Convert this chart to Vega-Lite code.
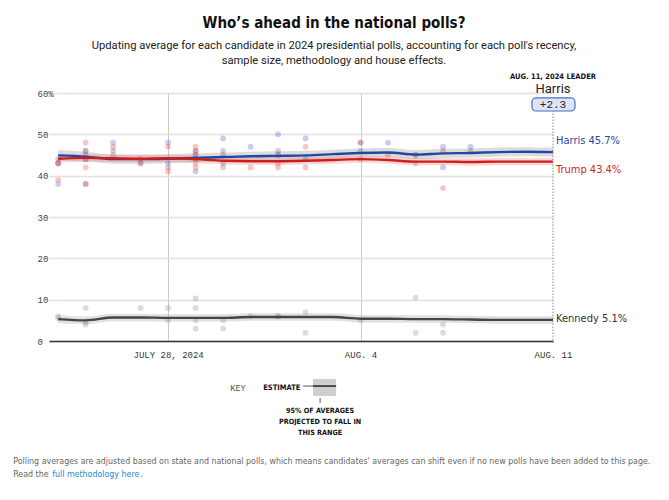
{
  "$schema": "https://vega.github.io/schema/vega-lite/v6.json",
  "width": 504,
  "height": 248,
  "autosize": {"type": "none"},
  "padding": {"left": 49, "top": 93, "right": 116, "bottom": 159},
  "background": "white",
  "config": {"font": "Roboto", "view": {"stroke": null}},
  "title": {
    "text": "Who’s ahead in the national polls?",
    "subtitle": ["Updating average for each candidate in 2024 presidential polls, accounting for each poll's recency,", "sample size, methodology and house effects."],
    "anchor": "middle",
    "dx": 33,
    "font": "DejaVu Sans Condensed",
    "fontSize": 15,
    "fontWeight": "bold",
    "color": "#111111",
    "subtitleFont": "Roboto",
    "subtitleFontSize": 11.2,
    "subtitleColor": "#222222",
    "subtitlePadding": 9,
    "subtitleLineHeight": 15,
    "offset": 7
  },
  "datasets": {
    "avg": [
      {"cand": "Harris", "date": "2024-07-24", "pct": 44.9, "lo": 43.6, "hi": 46.2},
      {"cand": "Harris", "date": "2024-07-25", "pct": 44.6, "lo": 43.4, "hi": 45.8},
      {"cand": "Harris", "date": "2024-07-26", "pct": 44.0, "lo": 42.9, "hi": 45.1},
      {"cand": "Harris", "date": "2024-07-27", "pct": 44.0, "lo": 42.9, "hi": 45.1},
      {"cand": "Harris", "date": "2024-07-28", "pct": 44.1, "lo": 43.0, "hi": 45.2},
      {"cand": "Harris", "date": "2024-07-29", "pct": 44.3, "lo": 43.2, "hi": 45.4},
      {"cand": "Harris", "date": "2024-07-30", "pct": 44.5, "lo": 43.4, "hi": 45.6},
      {"cand": "Harris", "date": "2024-07-31", "pct": 44.7, "lo": 43.6, "hi": 45.8},
      {"cand": "Harris", "date": "2024-08-01", "pct": 44.8, "lo": 43.7, "hi": 45.9},
      {"cand": "Harris", "date": "2024-08-02", "pct": 44.9, "lo": 43.8, "hi": 46.0},
      {"cand": "Harris", "date": "2024-08-03", "pct": 45.2, "lo": 44.1, "hi": 46.3},
      {"cand": "Harris", "date": "2024-08-04", "pct": 45.5, "lo": 44.4, "hi": 46.6},
      {"cand": "Harris", "date": "2024-08-05", "pct": 45.6, "lo": 44.5, "hi": 46.7},
      {"cand": "Harris", "date": "2024-08-06", "pct": 45.1, "lo": 44.0, "hi": 46.2},
      {"cand": "Harris", "date": "2024-08-07", "pct": 45.4, "lo": 44.3, "hi": 46.5},
      {"cand": "Harris", "date": "2024-08-08", "pct": 45.5, "lo": 44.4, "hi": 46.6},
      {"cand": "Harris", "date": "2024-08-09", "pct": 45.7, "lo": 44.6, "hi": 46.8},
      {"cand": "Harris", "date": "2024-08-10", "pct": 45.8, "lo": 44.7, "hi": 46.9},
      {"cand": "Harris", "date": "2024-08-11", "pct": 45.7, "lo": 44.6, "hi": 46.8},
      {"cand": "Trump", "date": "2024-07-24", "pct": 44.1, "lo": 43.1, "hi": 45.1},
      {"cand": "Trump", "date": "2024-07-25", "pct": 44.3, "lo": 43.4, "hi": 45.2},
      {"cand": "Trump", "date": "2024-07-26", "pct": 44.2, "lo": 43.3, "hi": 45.1},
      {"cand": "Trump", "date": "2024-07-27", "pct": 44.1, "lo": 43.2, "hi": 45.0},
      {"cand": "Trump", "date": "2024-07-28", "pct": 44.2, "lo": 43.3, "hi": 45.1},
      {"cand": "Trump", "date": "2024-07-29", "pct": 44.0, "lo": 43.1, "hi": 44.9},
      {"cand": "Trump", "date": "2024-07-30", "pct": 43.6, "lo": 42.7, "hi": 44.5},
      {"cand": "Trump", "date": "2024-07-31", "pct": 43.5, "lo": 42.6, "hi": 44.4},
      {"cand": "Trump", "date": "2024-08-01", "pct": 43.5, "lo": 42.6, "hi": 44.4},
      {"cand": "Trump", "date": "2024-08-02", "pct": 43.6, "lo": 42.7, "hi": 44.5},
      {"cand": "Trump", "date": "2024-08-03", "pct": 43.8, "lo": 42.9, "hi": 44.7},
      {"cand": "Trump", "date": "2024-08-04", "pct": 44.0, "lo": 43.1, "hi": 44.9},
      {"cand": "Trump", "date": "2024-08-05", "pct": 43.8, "lo": 42.9, "hi": 44.7},
      {"cand": "Trump", "date": "2024-08-06", "pct": 43.4, "lo": 42.5, "hi": 44.3},
      {"cand": "Trump", "date": "2024-08-07", "pct": 43.4, "lo": 42.5, "hi": 44.3},
      {"cand": "Trump", "date": "2024-08-08", "pct": 43.3, "lo": 42.4, "hi": 44.2},
      {"cand": "Trump", "date": "2024-08-09", "pct": 43.4, "lo": 42.5, "hi": 44.3},
      {"cand": "Trump", "date": "2024-08-10", "pct": 43.4, "lo": 42.5, "hi": 44.3},
      {"cand": "Trump", "date": "2024-08-11", "pct": 43.4, "lo": 42.5, "hi": 44.3},
      {"cand": "Kennedy", "date": "2024-07-24", "pct": 5.3, "lo": 4.3, "hi": 6.3},
      {"cand": "Kennedy", "date": "2024-07-25", "pct": 5.0, "lo": 4.1, "hi": 5.9},
      {"cand": "Kennedy", "date": "2024-07-26", "pct": 5.7, "lo": 4.8, "hi": 6.6},
      {"cand": "Kennedy", "date": "2024-07-27", "pct": 5.7, "lo": 4.8, "hi": 6.6},
      {"cand": "Kennedy", "date": "2024-07-28", "pct": 5.6, "lo": 4.7, "hi": 6.5},
      {"cand": "Kennedy", "date": "2024-07-29", "pct": 5.6, "lo": 4.7, "hi": 6.5},
      {"cand": "Kennedy", "date": "2024-07-30", "pct": 5.6, "lo": 4.7, "hi": 6.5},
      {"cand": "Kennedy", "date": "2024-07-31", "pct": 5.8, "lo": 4.9, "hi": 6.7},
      {"cand": "Kennedy", "date": "2024-08-01", "pct": 5.8, "lo": 4.9, "hi": 6.7},
      {"cand": "Kennedy", "date": "2024-08-02", "pct": 5.8, "lo": 4.9, "hi": 6.7},
      {"cand": "Kennedy", "date": "2024-08-03", "pct": 5.8, "lo": 4.9, "hi": 6.7},
      {"cand": "Kennedy", "date": "2024-08-04", "pct": 5.4, "lo": 4.5, "hi": 6.3},
      {"cand": "Kennedy", "date": "2024-08-05", "pct": 5.4, "lo": 4.5, "hi": 6.3},
      {"cand": "Kennedy", "date": "2024-08-06", "pct": 5.3, "lo": 4.4, "hi": 6.2},
      {"cand": "Kennedy", "date": "2024-08-07", "pct": 5.3, "lo": 4.4, "hi": 6.2},
      {"cand": "Kennedy", "date": "2024-08-08", "pct": 5.2, "lo": 4.3, "hi": 6.1},
      {"cand": "Kennedy", "date": "2024-08-09", "pct": 5.1, "lo": 4.2, "hi": 6.0},
      {"cand": "Kennedy", "date": "2024-08-10", "pct": 5.1, "lo": 4.2, "hi": 6.0},
      {"cand": "Kennedy", "date": "2024-08-11", "pct": 5.1, "lo": 4.2, "hi": 6.0}
    ],
    "polls": [
      {"cand": "Harris", "date": "2024-07-24", "pct": 44},
      {"cand": "Harris", "date": "2024-07-24", "pct": 43},
      {"cand": "Harris", "date": "2024-07-24", "pct": 38},
      {"cand": "Harris", "date": "2024-07-25", "pct": 46},
      {"cand": "Harris", "date": "2024-07-25", "pct": 45},
      {"cand": "Harris", "date": "2024-07-25", "pct": 44},
      {"cand": "Harris", "date": "2024-07-25", "pct": 38},
      {"cand": "Harris", "date": "2024-07-26", "pct": 48},
      {"cand": "Harris", "date": "2024-07-26", "pct": 46},
      {"cand": "Harris", "date": "2024-07-27", "pct": 43},
      {"cand": "Harris", "date": "2024-07-28", "pct": 48},
      {"cand": "Harris", "date": "2024-07-28", "pct": 43},
      {"cand": "Harris", "date": "2024-07-29", "pct": 46},
      {"cand": "Harris", "date": "2024-07-29", "pct": 45},
      {"cand": "Harris", "date": "2024-07-29", "pct": 44},
      {"cand": "Harris", "date": "2024-07-29", "pct": 41},
      {"cand": "Harris", "date": "2024-07-30", "pct": 49},
      {"cand": "Harris", "date": "2024-07-30", "pct": 46},
      {"cand": "Harris", "date": "2024-07-30", "pct": 43},
      {"cand": "Harris", "date": "2024-07-31", "pct": 47},
      {"cand": "Harris", "date": "2024-08-01", "pct": 50},
      {"cand": "Harris", "date": "2024-08-01", "pct": 46},
      {"cand": "Harris", "date": "2024-08-01", "pct": 45},
      {"cand": "Harris", "date": "2024-08-02", "pct": 49},
      {"cand": "Harris", "date": "2024-08-02", "pct": 44},
      {"cand": "Harris", "date": "2024-08-04", "pct": 48},
      {"cand": "Harris", "date": "2024-08-04", "pct": 46},
      {"cand": "Harris", "date": "2024-08-05", "pct": 48},
      {"cand": "Harris", "date": "2024-08-06", "pct": 45},
      {"cand": "Harris", "date": "2024-08-07", "pct": 47},
      {"cand": "Harris", "date": "2024-08-07", "pct": 42},
      {"cand": "Harris", "date": "2024-08-08", "pct": 47},
      {"cand": "Trump", "date": "2024-07-24", "pct": 43},
      {"cand": "Trump", "date": "2024-07-24", "pct": 43},
      {"cand": "Trump", "date": "2024-07-24", "pct": 39},
      {"cand": "Trump", "date": "2024-07-25", "pct": 48},
      {"cand": "Trump", "date": "2024-07-25", "pct": 46},
      {"cand": "Trump", "date": "2024-07-25", "pct": 44},
      {"cand": "Trump", "date": "2024-07-25", "pct": 42},
      {"cand": "Trump", "date": "2024-07-25", "pct": 38},
      {"cand": "Trump", "date": "2024-07-26", "pct": 47},
      {"cand": "Trump", "date": "2024-07-26", "pct": 45},
      {"cand": "Trump", "date": "2024-07-27", "pct": 44},
      {"cand": "Trump", "date": "2024-07-27", "pct": 43},
      {"cand": "Trump", "date": "2024-07-28", "pct": 47},
      {"cand": "Trump", "date": "2024-07-28", "pct": 42},
      {"cand": "Trump", "date": "2024-07-28", "pct": 41},
      {"cand": "Trump", "date": "2024-07-29", "pct": 47},
      {"cand": "Trump", "date": "2024-07-29", "pct": 46},
      {"cand": "Trump", "date": "2024-07-29", "pct": 45},
      {"cand": "Trump", "date": "2024-07-29", "pct": 43},
      {"cand": "Trump", "date": "2024-07-29", "pct": 42},
      {"cand": "Trump", "date": "2024-07-30", "pct": 45},
      {"cand": "Trump", "date": "2024-07-30", "pct": 42},
      {"cand": "Trump", "date": "2024-07-31", "pct": 42},
      {"cand": "Trump", "date": "2024-08-01", "pct": 45},
      {"cand": "Trump", "date": "2024-08-01", "pct": 43},
      {"cand": "Trump", "date": "2024-08-01", "pct": 42},
      {"cand": "Trump", "date": "2024-08-02", "pct": 47},
      {"cand": "Trump", "date": "2024-08-02", "pct": 42},
      {"cand": "Trump", "date": "2024-08-04", "pct": 48},
      {"cand": "Trump", "date": "2024-08-04", "pct": 44},
      {"cand": "Trump", "date": "2024-08-05", "pct": 45},
      {"cand": "Trump", "date": "2024-08-06", "pct": 45},
      {"cand": "Trump", "date": "2024-08-06", "pct": 43},
      {"cand": "Trump", "date": "2024-08-07", "pct": 46},
      {"cand": "Trump", "date": "2024-08-07", "pct": 37},
      {"cand": "Trump", "date": "2024-08-08", "pct": 46},
      {"cand": "Kennedy", "date": "2024-07-24", "pct": 6},
      {"cand": "Kennedy", "date": "2024-07-24", "pct": 5.5},
      {"cand": "Kennedy", "date": "2024-07-25", "pct": 8},
      {"cand": "Kennedy", "date": "2024-07-25", "pct": 4.5},
      {"cand": "Kennedy", "date": "2024-07-25", "pct": 4},
      {"cand": "Kennedy", "date": "2024-07-27", "pct": 8},
      {"cand": "Kennedy", "date": "2024-07-28", "pct": 8},
      {"cand": "Kennedy", "date": "2024-07-28", "pct": 5},
      {"cand": "Kennedy", "date": "2024-07-29", "pct": 10.3},
      {"cand": "Kennedy", "date": "2024-07-29", "pct": 8},
      {"cand": "Kennedy", "date": "2024-07-29", "pct": 5},
      {"cand": "Kennedy", "date": "2024-07-29", "pct": 3},
      {"cand": "Kennedy", "date": "2024-07-30", "pct": 5},
      {"cand": "Kennedy", "date": "2024-07-30", "pct": 3},
      {"cand": "Kennedy", "date": "2024-07-31", "pct": 6},
      {"cand": "Kennedy", "date": "2024-08-01", "pct": 6},
      {"cand": "Kennedy", "date": "2024-08-01", "pct": 6},
      {"cand": "Kennedy", "date": "2024-08-02", "pct": 7},
      {"cand": "Kennedy", "date": "2024-08-02", "pct": 2},
      {"cand": "Kennedy", "date": "2024-08-04", "pct": 5},
      {"cand": "Kennedy", "date": "2024-08-06", "pct": 10.5},
      {"cand": "Kennedy", "date": "2024-08-06", "pct": 2},
      {"cand": "Kennedy", "date": "2024-08-07", "pct": 4},
      {"cand": "Kennedy", "date": "2024-08-07", "pct": 2}
    ],
    "ends": [
      {"cand": "Harris", "date": "2024-08-11", "pct": 45.7, "label": "Harris 45.7%"},
      {"cand": "Trump", "date": "2024-08-11", "pct": 43.4, "label": "Trump 43.4%"},
      {"cand": "Kennedy", "date": "2024-08-11", "pct": 5.1, "label": "Kennedy 5.1%"}
    ]
  },
  "layer": [
    {
      "data": {"name": "avg"},
      "mark": {"type": "area", "opacity": 0.3, "interpolate": "monotone"},
      "encoding": {
        "x": {
          "field": "date", "type": "temporal", "title": null,
          "scale": {"type": "utc", "domain": [{"year": 2024, "month": 7, "date": 23, "hours": 16, "utc": true}, {"year": 2024, "month": 8, "date": 11, "utc": true}]},
          "axis": {
            "values": [{"year": 2024, "month": 7, "date": 28, "utc": true}, {"year": 2024, "month": 8, "date": 4, "utc": true}, {"year": 2024, "month": 8, "date": 11, "utc": true}],
            "labelExpr": "utcmonth(datum.value) == 6 ? 'JULY 28, 2024' : (utcdate(datum.value) == 4 ? 'AUG. 4' : 'AUG. 11')",
            "labelFont": "Liberation Mono", "labelFontSize": 9, "labelColor": "#333333", "labelPadding": 9,
            "labelFlush": false, "labelOverlap": false,
            "ticks": false, "domainColor": "#333333", "domainWidth": 1.5,
            "grid": true, "gridColor": "#cccccc", "gridWidth": 1,
            "gridOpacity": {"condition": {"test": "utcdate(datum.value) == 11", "value": 0}, "value": 1}
          }
        },
        "y": {
          "field": "lo", "type": "quantitative", "title": null,
          "scale": {"domain": [0, 60], "nice": false},
          "axis": {
            "values": [0, 10, 20, 30, 40, 50, 60],
            "labelExpr": "datum.value == 60 ? '60%' : datum.label",
            "labelFont": "Liberation Mono", "labelFontSize": 9, "labelColor": "#444444",
            "labelAlign": "left", "labelPadding": 12,
            "ticks": false, "domain": false,
            "grid": true, "gridColor": "#e0e0e0", "gridWidth": 1.5
          }
        },
        "y2": {"field": "hi"},
        "color": {"field": "cand", "type": "nominal", "legend": null, "scale": {"domain": ["Harris", "Trump", "Kennedy"], "range": ["#8c8c8c", "#f07a7a", "#9a9a9a"]}}
      }
    },
    {
      "data": {"name": "polls"},
      "mark": {"type": "circle", "size": 34, "opacity": 0.3},
      "encoding": {
        "x": {"field": "date", "type": "temporal", "title": null},
        "y": {"field": "pct", "type": "quantitative", "title": null},
        "color": {"field": "cand", "type": "nominal", "legend": null, "scale": {"domain": ["Harris", "Trump", "Kennedy"], "range": ["#3f62c8", "#e5463d", "#8a8a8a"]}}
      }
    },
    {
      "data": {"name": "avg"},
      "mark": {"type": "line", "strokeWidth": 2.4, "interpolate": "monotone"},
      "encoding": {
        "x": {"field": "date", "type": "temporal", "title": null},
        "y": {"field": "pct", "type": "quantitative", "title": null},
        "color": {"field": "cand", "type": "nominal", "legend": null, "scale": {"domain": ["Harris", "Trump", "Kennedy"], "range": ["#1f48a6", "#cf1d1d", "#454545"]}}
      }
    },
    {
      "data": {"values": [{}]},
      "mark": {"type": "rule", "color": "#888888", "strokeWidth": 1, "strokeDash": [1.5, 1.5]},
      "encoding": {
        "x": {"datum": {"year": 2024, "month": 8, "date": 11, "utc": true}, "type": "temporal"},
        "y": {"datum": -0.5, "type": "quantitative"},
        "y2": {"datum": 55.5}
      }
    },
    {
      "data": {"name": "ends"},
      "transform": [{"filter": "datum.cand == 'Harris'"}],
      "mark": {"type": "text", "font": "DejaVu Sans Condensed", "align": "left", "dx": 3, "dy": -11, "fontSize": 11, "color": "#2a4b9b"},
      "encoding": {"x": {"field": "date", "type": "temporal", "title": null}, "y": {"field": "pct", "type": "quantitative", "title": null}, "text": {"field": "label"}}
    },
    {
      "data": {"name": "ends"},
      "transform": [{"filter": "datum.cand == 'Trump'"}],
      "mark": {"type": "text", "font": "DejaVu Sans Condensed", "align": "left", "dx": 3, "dy": 8, "fontSize": 11, "color": "#d0251d"},
      "encoding": {"x": {"field": "date", "type": "temporal", "title": null}, "y": {"field": "pct", "type": "quantitative", "title": null}, "text": {"field": "label"}}
    },
    {
      "data": {"name": "ends"},
      "transform": [{"filter": "datum.cand == 'Kennedy'"}],
      "mark": {"type": "text", "font": "DejaVu Sans Condensed", "align": "left", "dx": 3, "dy": -1, "fontSize": 11, "color": "#333333"},
      "encoding": {"x": {"field": "date", "type": "temporal", "title": null}, "y": {"field": "pct", "type": "quantitative", "title": null}, "text": {"field": "label"}}
    },
    {
      "data": {"values": [{}]},
      "mark": {"type": "rect", "fill": "#dde4f6", "stroke": "#4a6dc5", "strokeWidth": 1.2, "cornerRadius": 4},
      "encoding": {
        "x": {"datum": {"year": 2024, "month": 8, "date": 10, "hours": 5, "minutes": 40, "utc": true}, "type": "temporal"},
        "x2": {"datum": {"year": 2024, "month": 8, "date": 11, "hours": 19, "minutes": 12, "utc": true}},
        "y": {"datum": 55.65, "type": "quantitative"},
        "y2": {"datum": 58.8}
      }
    },
    {
      "data": {"values": [{}]},
      "mark": {"type": "text", "font": "Liberation Mono", "fontSize": 11, "color": "#222222", "align": "center", "baseline": "middle"},
      "encoding": {
        "x": {"datum": {"year": 2024, "month": 8, "date": 11, "utc": true}, "type": "temporal"},
        "y": {"datum": 57.2, "type": "quantitative"},
        "text": {"value": "+2.3"}
      }
    },
    {
      "data": {"values": [{}]},
      "mark": {"type": "text", "fontSize": 13, "color": "#222222", "align": "center", "baseline": "middle"},
      "encoding": {
        "x": {"datum": {"year": 2024, "month": 8, "date": 11, "utc": true}, "type": "temporal"},
        "y": {"datum": 61.0, "type": "quantitative"},
        "text": {"value": "Harris"}
      }
    },
    {
      "data": {"values": [{}]},
      "mark": {"type": "text", "font": "DejaVu Sans Condensed", "fontSize": 7.5, "fontWeight": "bold", "color": "#111111", "align": "center", "baseline": "middle"},
      "encoding": {
        "x": {"datum": {"year": 2024, "month": 8, "date": 11, "utc": true}, "type": "temporal"},
        "y": {"datum": 63.9, "type": "quantitative"},
        "text": {"value": "AUG. 11, 2024 LEADER"}
      }
    },
    {
      "data": {"values": [{}]},
      "mark": {"type": "text", "font": "Liberation Mono", "fontSize": 8.5, "color": "#555555", "align": "center", "baseline": "middle"},
      "encoding": {
        "x": {"datum": {"year": 2024, "month": 7, "date": 30, "hours": 13, "utc": true}, "type": "temporal"},
        "y": {"datum": -11.4, "type": "quantitative"},
        "text": {"value": "KEY"}
      }
    },
    {
      "data": {"values": [{}]},
      "mark": {"type": "text", "font": "DejaVu Sans Condensed", "fontSize": 7.5, "fontWeight": "bold", "color": "#111111", "align": "left", "baseline": "middle"},
      "encoding": {
        "x": {"datum": {"year": 2024, "month": 7, "date": 31, "hours": 11, "utc": true}, "type": "temporal"},
        "y": {"datum": -11.4, "type": "quantitative"},
        "text": {"value": "ESTIMATE"}
      }
    },
    {
      "data": {"values": [{}]},
      "mark": {"type": "rule", "color": "#555555", "strokeWidth": 1},
      "encoding": {
        "x": {"datum": {"year": 2024, "month": 8, "date": 1, "hours": 21, "minutes": 50, "utc": true}, "type": "temporal"},
        "x2": {"datum": {"year": 2024, "month": 8, "date": 2, "hours": 6, "minutes": 30, "utc": true}},
        "y": {"datum": -10.9, "type": "quantitative"}
      }
    },
    {
      "data": {"values": [{}]},
      "mark": {"type": "rect", "fill": "#cfcfcf"},
      "encoding": {
        "x": {"datum": {"year": 2024, "month": 8, "date": 2, "hours": 6, "minutes": 30, "utc": true}, "type": "temporal"},
        "x2": {"datum": {"year": 2024, "month": 8, "date": 3, "hours": 2, "minutes": 40, "utc": true}},
        "y": {"datum": -9.2, "type": "quantitative"},
        "y2": {"datum": -13.3}
      }
    },
    {
      "data": {"values": [{}]},
      "mark": {"type": "rule", "color": "#222222", "strokeWidth": 1.5},
      "encoding": {
        "x": {"datum": {"year": 2024, "month": 8, "date": 2, "hours": 6, "minutes": 30, "utc": true}, "type": "temporal"},
        "x2": {"datum": {"year": 2024, "month": 8, "date": 3, "hours": 2, "minutes": 40, "utc": true}},
        "y": {"datum": -10.9, "type": "quantitative"}
      }
    },
    {
      "data": {"values": [{}]},
      "mark": {"type": "rule", "color": "#555555", "strokeWidth": 1},
      "encoding": {
        "x": {"datum": {"year": 2024, "month": 8, "date": 2, "hours": 12, "minutes": 40, "utc": true}, "type": "temporal"},
        "y": {"datum": -13.8, "type": "quantitative"},
        "y2": {"datum": -15.0}
      }
    },
    {
      "data": {"values": [{}]},
      "mark": {"type": "text", "font": "DejaVu Sans Condensed", "fontSize": 7.2, "fontWeight": "bold", "color": "#111111", "align": "center", "baseline": "top", "lineHeight": 11},
      "encoding": {
        "x": {"datum": {"year": 2024, "month": 8, "date": 2, "hours": 12, "minutes": 40, "utc": true}, "type": "temporal"},
        "y": {"datum": -16.0, "type": "quantitative"},
        "text": {"value": ["95% OF AVERAGES", "PROJECTED TO FALL IN", "THIS RANGE"]}
      }
    },
    {
      "data": {"values": [{}]},
      "mark": {"type": "text", "font": "DejaVu Sans Condensed", "fontSize": 8.8, "color": "#666666", "align": "left", "baseline": "top", "lineHeight": 12.5},
      "encoding": {
        "x": {"datum": {"year": 2024, "month": 7, "date": 22, "hours": 8, "minutes": 44, "utc": true}, "type": "temporal"},
        "y": {"datum": -28.1, "type": "quantitative"},
        "text": {"value": ["Polling averages are adjusted based on state and national polls, which means candidates' averages can shift even if no new polls have been added to this page.", "Read the"]}
      }
    },
    {
      "data": {"values": [{}]},
      "mark": {"type": "text", "font": "DejaVu Sans Condensed", "fontSize": 8.8, "color": "#1a8bd6", "align": "left", "baseline": "top"},
      "encoding": {
        "x": {"datum": {"year": 2024, "month": 7, "date": 23, "hours": 18, "minutes": 46, "utc": true}, "type": "temporal"},
        "y": {"datum": -31.1, "type": "quantitative"},
        "text": {"value": "full methodology here"}
      }
    },
    {
      "data": {"values": [{}]},
      "mark": {"type": "text", "font": "DejaVu Sans Condensed", "fontSize": 8.8, "color": "#666666", "align": "left", "baseline": "top"},
      "encoding": {
        "x": {"datum": {"year": 2024, "month": 7, "date": 26, "hours": 23, "minutes": 50, "utc": true}, "type": "temporal"},
        "y": {"datum": -31.1, "type": "quantitative"},
        "text": {"value": "."}
      }
    }
  ],
  "resolve": {"scale": {"color": "independent"}}
}
